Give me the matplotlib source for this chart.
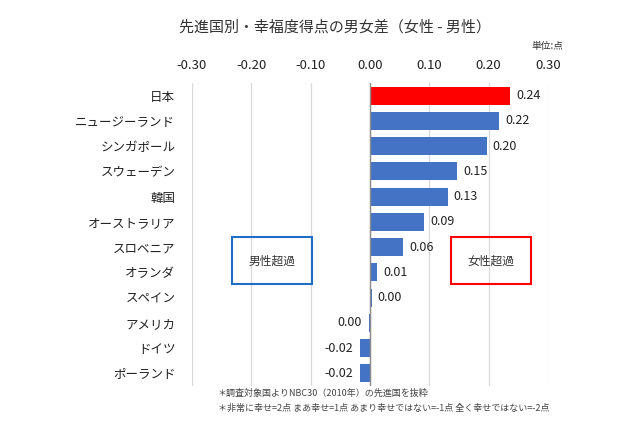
import numpy as np
import matplotlib.pyplot as plt
from matplotlib.patches import Rectangle

plt.rcParams['font.family'] = ['Noto Sans CJK JP', 'DejaVu Sans']

countries = ['日本', 'ニュージーランド', 'シンガポール', 'スウェーデン', '韓国',
             'オーストラリア', 'スロベニア', 'オランダ', 'スペイン', 'アメリカ',
             'ドイツ', 'ポーランド']
diff = [0.237, 0.218, 0.197, 0.147, 0.131, 0.092, 0.056, 0.012, 0.003,
        -0.001, -0.016, -0.017]
xticks = [-0.3, -0.2, -0.1, 0.0, 0.1, 0.2, 0.3]


def fmt(v):
    s = f"{v:.2f}"
    return "0.00" if s == "-0.00" else s


def main():
    fig = plt.figure(figsize=(6.4, 4.26), dpi=100)
    ax = fig.add_axes([0.3, 0.094, 0.556, 0.711])

    y = np.arange(len(countries))
    colors = ['#FF0000'] + ['#4472C4'] * (len(countries) - 1)
    ax.barh(y, diff, height=0.72, color=colors, zorder=3)

    for yi, v in zip(y, diff):
        if v >= 0:
            ax.text(v + 0.01, yi, fmt(v), va='center', ha='left',
                    fontsize=9, color='#222222')
        else:
            ax.text(v - 0.012, yi, fmt(v), va='center', ha='right',
                    fontsize=9, color='#222222')

    ax.set_xlim(-0.3, 0.3)
    ax.set_ylim(len(countries) - 0.5, -0.5)
    ax.set_xticks(xticks)
    ax.set_xticklabels([f"{t:.2f}" for t in xticks])
    ax.xaxis.tick_top()
    ax.tick_params(axis='x', length=0, pad=8, labelsize=9.5, labelcolor='#222222')
    ax.set_yticks(y)
    ax.set_yticklabels(countries)
    ax.tick_params(axis='y', length=0, pad=12, labelsize=9, labelcolor='#222222')
    for s in ax.spines.values():
        s.set_visible(False)
    ax.grid(axis='x', color='#d9d9d9', linewidth=0.9, zorder=0)
    ax.axvline(0, color='#8c8c8c', linewidth=1.0, zorder=4)

    fig.text(0.523, 0.935, '先進国別・幸福度得点の男女差（女性 - 男性）',
             ha='center', va='center', fontsize=10.8, color='#333333')
    fig.text(0.88, 0.893, '単位:点', ha='right', va='center', fontsize=7,
             color='#333333')

    # annotation boxes
    for x0, label, col in [(232, '男性超過', '#1F6FC5'), (451, '女性超過', '#FF0000')]:
        fig.patches.append(Rectangle((x0 / 640, 1 - 284 / 426), 80 / 640, 47 / 426,
                                     transform=fig.transFigure, fill=False,
                                     edgecolor=col, linewidth=1.5, zorder=5))
        fig.text((x0 + 40) / 640, 1 - 261 / 426, label, ha='center', va='center',
                 fontsize=8.5, color='#333333')

    fig.text(0.34, 1 - 393 / 426, '＊調査対象国よりNBC30（2010年）の先進国を抜粋',
             ha='left', va='center', fontsize=6.5, color='#444444')
    fig.text(0.34, 1 - 408 / 426,
             '＊非常に幸せ=2点 まあ幸せ=1点 あまり幸せではない=-1点 全く幸せではない=-2点',
             ha='left', va='center', fontsize=6.5, color='#444444')

    fig.savefig('out.png', dpi=100)


if __name__ == "__main__":
    main()
